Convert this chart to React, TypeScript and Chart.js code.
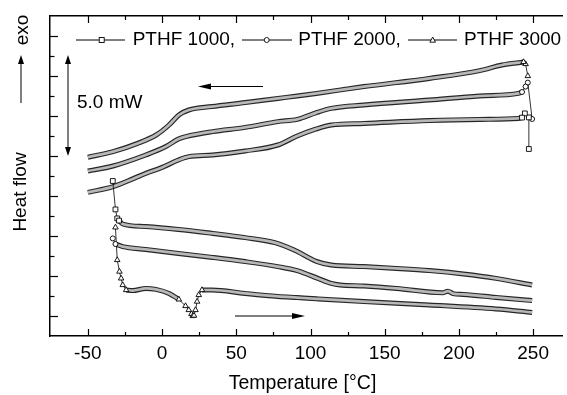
import React, { useEffect, useRef } from 'react';
import { Chart, registerables } from 'chart.js';

Chart.register(...registerables);

const FONT = '"Liberation Sans", Arial, Helvetica, sans-serif';

// ---- axes ----
const xMin = -75.5;
const xMax = 269.5;
const yMin = 0;
const yMax = 16;
const xMajorTicks = [-50, 0, 50, 100, 150, 200, 250];
const xMinorTicks = [-25, 25, 75, 125, 175, 225];
const yMajorTicks = [1, 3, 5, 7, 9, 11, 13, 15];
const yMinorTicks = [2, 4, 6, 8, 10, 12, 14];

// ---- legend ----
const seriesNames = ['PTHF 1000,', 'PTHF 2000,', 'PTHF 3000'];

// ---- cooling runs (250 -> -50 °C) ----
const cool1000T = [-50, -33, -19, -11, 0, 11, 18, 34, 56, 78, 91, 103, 114, 136, 180, 214, 240, 242.5];
const cool1000Y = [7.18, 7.47, 7.88, 8.13, 8.43, 8.8, 8.97, 9.05, 9.25, 9.55, 10.0, 10.33, 10.55, 10.63, 10.77, 10.83, 10.88, 10.92];
const cool1000LeadT = [247.1, 247.1, 244.4, 242.5];
const cool1000LeadY = [9.35, 10.93, 11.13, 10.92];

const cool2000T = [-50, -33, -11, 2.5, 11, 16, 34, 56, 78, 91, 104, 114, 136, 180, 214, 240, 242.5];
const cool2000Y = [8.25, 8.5, 9.05, 9.47, 9.85, 9.97, 10.22, 10.43, 10.72, 10.83, 11.17, 11.38, 11.55, 11.8, 12.0, 12.13, 12.2];
const cool2000LeadT = [249.3, 246.4, 244.9, 242.5];
const cool2000LeadY = [10.85, 12.67, 12.47, 12.2];

const cool3000T = [-50, -33, -16.5, -4, 4.7, 11.3, 18, 33.5, 56, 78, 91, 104, 136, 180, 214, 229, 243.5];
const cool3000Y = [8.94, 9.22, 9.63, 10.05, 10.55, 11.05, 11.3, 11.47, 11.67, 11.88, 12.0, 12.13, 12.47, 12.88, 13.27, 13.55, 13.7];
const cool3000LeadT = [246.4, 244.9, 243.5];
const cool3000LeadY = [13.0, 13.6, 13.7];

// ---- heating runs (-30 -> 250 °C) ----
const heat1000T = [-29, -26.5, -11, 11, 34, 56, 76, 89, 104, 114, 136, 158, 180, 203, 225, 249.3];
const heat1000Y = [5.77, 5.6, 5.47, 5.33, 5.13, 4.92, 4.67, 4.3, 3.73, 3.55, 3.47, 3.38, 3.27, 3.1, 2.88, 2.55];
const heat1000LeadT = [-33.2, -31.4, -30.2, -29];
const heat1000LeadY = [7.75, 6.33, 5.88, 5.77];

const heat2000T = [-31.4, -26.5, -11, 11, 34, 56, 78, 91, 105, 114, 120, 136, 158, 189, 192.6, 196, 203, 225, 249.3];
const heat2000Y = [4.6, 4.47, 4.33, 4.13, 3.93, 3.72, 3.47, 3.27, 2.88, 2.63, 2.55, 2.5, 2.38, 2.16, 2.24, 2.12, 2.08, 1.93, 1.77];
const heat2000LeadT = [-33.2, -31.4];
const heat2000LeadY = [4.88, 4.6];

const heat3000LeadT = [-31.4, -30.2, -28.7, -27.6, -26.5, -24.2];
const heat3000LeadY = [5.43, 3.8, 3.22, 2.88, 2.55, 2.3];
const heat3000AT = [-24.2, -19.8, -10.9, -4.2, 4.7, 11.3];
const heat3000AY = [2.3, 2.27, 2.38, 2.33, 2.13, 1.83];
const heat3000DipT = [11.3, 15.8, 18, 19.8, 20.7, 21.5, 22.5, 23.6, 24.7, 26.9];
const heat3000DipY = [1.83, 1.5, 1.3, 1.1, 1.0, 1.02, 1.3, 1.72, 2.05, 2.3];
const heat3000BT = [26.9, 33.6, 55.8, 78, 91, 104, 136, 180, 225, 249.3];
const heat3000BY = [2.3, 2.3, 2.13, 1.98, 1.92, 1.86, 1.72, 1.55, 1.35, 1.18];

const BAND_EDGE = '#262626';
const BAND_FILL = '#b8b8b8';

function pts(t: number[], y: number[]) {
  return t.map((v, i) => ({ x: v, y: y[i] }));
}

function band(t: number[], y: number[]) {
  return [
    {
      data: pts(t, y),
      borderColor: BAND_EDGE,
      borderWidth: 5,
      pointRadius: 0,
      cubicInterpolationMode: 'monotone',
      fill: false,
      order: 2,
    },
    {
      data: pts(t, y),
      borderColor: BAND_FILL,
      borderWidth: 2.7,
      pointRadius: 0,
      cubicInterpolationMode: 'monotone',
      fill: false,
      order: 1,
    },
  ];
}

function markers(t: number[], y: number[], style: string, r: number) {
  return {
    data: pts(t, y),
    borderColor: '#000',
    borderWidth: 0.8,
    tension: 0,
    pointStyle: style,
    pointRadius: r,
    pointBorderWidth: 0.9,
    pointBorderColor: '#000',
    pointBackgroundColor: '#fff',
    fill: false,
    order: 0,
  };
}

function arrowHead(ctx: CanvasRenderingContext2D, x1: number, y1: number, x2: number, y2: number, len: number, half: number) {
  const a = Math.atan2(y2 - y1, x2 - x1);
  const bx = x2 - Math.cos(a) * len;
  const by = y2 - Math.sin(a) * len;
  ctx.beginPath();
  ctx.moveTo(x2, y2);
  ctx.lineTo(bx + Math.sin(a) * half, by - Math.cos(a) * half);
  ctx.lineTo(bx - Math.sin(a) * half, by + Math.cos(a) * half);
  ctx.closePath();
  ctx.fill();
}

function line(ctx: CanvasRenderingContext2D, x1: number, y1: number, x2: number, y2: number) {
  ctx.beginPath();
  ctx.moveTo(x1, y1);
  ctx.lineTo(x2, y2);
  ctx.stroke();
}

const decor = {
  id: 'decor',
  afterDraw(chart: any) {
    const ctx: CanvasRenderingContext2D = chart.ctx;
    const xs = chart.scales.x;
    const ys = chart.scales.y;
    const { left, top, bottom } = chart.chartArea;
    ctx.save();
    ctx.strokeStyle = '#000';
    ctx.fillStyle = '#000';
    ctx.lineWidth = 1.2;
    // tick marks (inside)
    xMajorTicks.forEach((v) => {
      const p = Math.round(xs.getPixelForValue(v)) + 0.5;
      line(ctx, p, bottom, p, bottom - 7);
      line(ctx, p, top, p, top + 7);
    });
    xMinorTicks.forEach((v) => {
      const p = Math.round(xs.getPixelForValue(v)) + 0.5;
      line(ctx, p, bottom, p, bottom - 4);
      line(ctx, p, top, p, top + 4);
    });
    yMajorTicks.forEach((v) => {
      const p = Math.round(ys.getPixelForValue(v)) + 0.5;
      line(ctx, left, p, left + 8, p);
    });
    yMinorTicks.forEach((v) => {
      const p = Math.round(ys.getPixelForValue(v)) + 0.5;
      line(ctx, left, p, left + 4.5, p);
    });

    // legend
    const ly = 40;
    ctx.lineWidth = 1;
    line(ctx, 76, ly, 125, ly);
    line(ctx, 242, ly, 292, ly);
    line(ctx, 408, ly, 457, ly);
    ctx.fillStyle = '#fff';
    ctx.lineWidth = 0.9;
    ctx.fillRect(99.2, ly - 2.5, 5, 5);
    ctx.strokeRect(99.2, ly - 2.5, 5, 5);
    ctx.beginPath();
    ctx.arc(266.7, ly, 2.5, 0, Math.PI * 2);
    ctx.fill();
    ctx.stroke();
    ctx.beginPath();
    ctx.moveTo(432.7, ly - 3);
    ctx.lineTo(435.5, ly + 2.2);
    ctx.lineTo(429.9, ly + 2.2);
    ctx.closePath();
    ctx.fill();
    ctx.stroke();
    ctx.fillStyle = '#000';
    ctx.font = `19px ${FONT}`;
    ctx.textAlign = 'left';
    ctx.textBaseline = 'middle';
    ctx.fillText(seriesNames[0], 132.7, ly);
    ctx.fillText(seriesNames[1], 298.3, ly);
    ctx.fillText(seriesNames[2], 464, ly);

    // scale bar
    ctx.lineWidth = 1;
    line(ctx, 68, 62, 68, 149);
    arrowHead(ctx, 68, 100, 68, 55, 9, 3);
    arrowHead(ctx, 68, 100, 68, 156, 9, 3);
    ctx.fillText('5.0 mW', 77, 102.5);

    // cooling / heating arrows
    line(ctx, 263, 86.5, 210, 86.5);
    arrowHead(ctx, 263, 86.5, 198, 86.5, 13, 3);
    line(ctx, 235, 316, 293, 316);
    arrowHead(ctx, 235, 316, 305, 316, 13, 3);

    // y title + exo arrow
    line(ctx, 21, 103, 21, 62);
    arrowHead(ctx, 21, 103, 21, 55, 9, 3);
    ctx.save();
    ctx.translate(26, 192);
    ctx.rotate(-Math.PI / 2);
    ctx.textAlign = 'center';
    ctx.textBaseline = 'alphabetic';
    ctx.fillText('Heat flow', 0, 0);
    ctx.restore();
    ctx.save();
    ctx.translate(28, 30);
    ctx.rotate(-Math.PI / 2);
    ctx.textAlign = 'center';
    ctx.textBaseline = 'alphabetic';
    ctx.fillText('exo', 0, 0);
    ctx.restore();

    // x title
    ctx.font = `19.5px ${FONT}`;
    ctx.textAlign = 'center';
    ctx.textBaseline = 'middle';
    ctx.fillText('Temperature [°C]', 302.5, 384);
    ctx.restore();
  },
};

export default function App() {
  const ref = useRef<HTMLCanvasElement | null>(null);

  useEffect(() => {
    if (!ref.current) return;
    const datasets: any[] = [
      ...band(cool1000T, cool1000Y),
      ...band(cool2000T, cool2000Y),
      ...band(cool3000T, cool3000Y),
      ...band(heat1000T, heat1000Y),
      ...band(heat2000T, heat2000Y),
      ...band(heat3000AT, heat3000AY),
      ...band(heat3000BT, heat3000BY),
      markers(cool1000LeadT, cool1000LeadY, 'rect', 3.4),
      markers(cool2000LeadT, cool2000LeadY, 'circle', 2.5),
      markers(cool3000LeadT, cool3000LeadY, 'triangle', 3.2),
      markers(heat1000LeadT, heat1000LeadY, 'rect', 3.4),
      markers(heat2000LeadT, heat2000LeadY, 'circle', 2.5),
      markers(heat3000LeadT, heat3000LeadY, 'triangle', 3.2),
      markers(heat3000DipT, heat3000DipY, 'triangle', 3.2),
    ];
    const chart = new Chart(ref.current, {
      type: 'line',
      data: { datasets },
      options: {
        responsive: false,
        animation: false,
        devicePixelRatio: 1,
        layout: { padding: 0 },
        plugins: { legend: { display: false }, tooltip: { enabled: false } },
        scales: {
          x: {
            type: 'linear',
            position: 'bottom',
            min: xMin,
            max: xMax,
            afterBuildTicks: (s: any) => {
              s.ticks = xMajorTicks.map((v) => ({ value: v }));
            },
            afterFit: (s: any) => {
              s.height = 59;
            },
            ticks: {
              autoSkip: false,
              maxRotation: 0,
              padding: 6,
              color: '#000',
              font: { size: 19, family: FONT },
            },
            grid: { display: false, drawTicks: false },
            border: { display: true, color: '#000', width: 1.5 },
          },
          xTop: {
            type: 'linear',
            position: 'top',
            min: xMin,
            max: xMax,
            afterFit: (s: any) => {
              s.height = 16;
            },
            ticks: { display: false },
            grid: { display: false, drawTicks: false },
            border: { display: true, color: '#000', width: 1.5 },
          },
          y: {
            type: 'linear',
            position: 'left',
            min: yMin,
            max: yMax,
            afterFit: (s: any) => {
              s.width = 50;
            },
            ticks: { display: false },
            grid: { display: false, drawTicks: false },
            border: { display: true, color: '#000', width: 1.5 },
          },
        },
      },
      plugins: [decor],
    } as any);
    return () => chart.destroy();
  }, []);

  return (
    <div style={{ position: 'fixed', left: 0, top: 0, width: 567, height: 395, background: '#fff' }}>
      <canvas ref={ref} width={567} height={395} style={{ display: 'block' }} />
    </div>
  );
}
